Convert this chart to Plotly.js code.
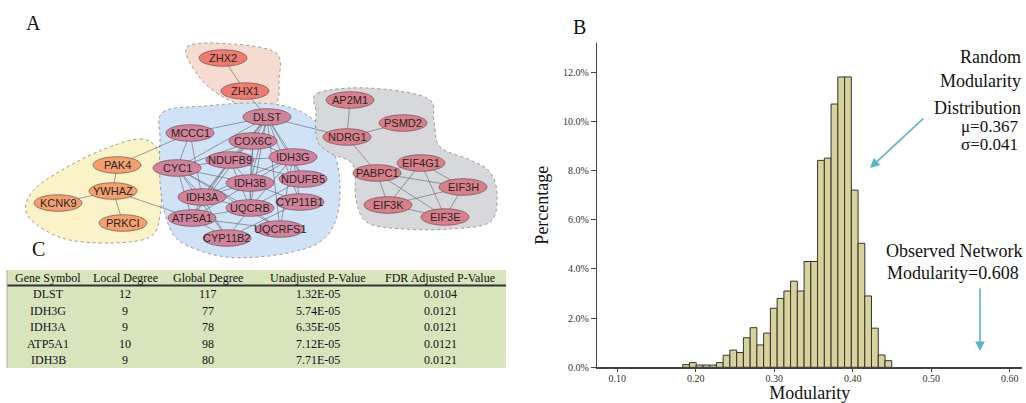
<!DOCTYPE html>
<html>
<head>
<meta charset="utf-8">
<script src="https://cdn.plot.ly/plotly-3.0.1.min.js"></script>
<style>
  html, body { margin: 0; padding: 0; background: #fff; }
  #chart { width: 1026px; height: 403px; }
</style>
</head>
<body>
<div id="chart"></div>
<script>
// ---------- Panel B: histogram data ----------
const binCenters = [0.1876, 0.1962, 0.2048, 0.2134, 0.2220, 0.2306, 0.2391, 0.2477, 0.2563, 0.2649,
                    0.2735, 0.2821, 0.2907, 0.2993, 0.3079, 0.3165, 0.3250, 0.3336, 0.3422, 0.3508,
                    0.3594, 0.3680, 0.3766, 0.3852, 0.3938, 0.4024, 0.4110, 0.4195, 0.4281, 0.4367, 0.4453];
const binPercent = [0.11, 0.19, 0.09, 0.09, 0.09, 0.19, 0.49, 0.70, 0.60, 1.20,
                    1.61, 0.91, 1.39, 2.40, 2.80, 3.10, 3.50, 3.10, 4.30, 4.30,
                    8.41, 8.50, 10.70, 11.80, 11.80, 7.20, 5.04, 2.90, 1.59, 0.50, 0.27];
const xTickVals = [0.10, 0.20, 0.30, 0.40, 0.50, 0.60];
const xTickText = ['0.10', '0.20', '0.30', '0.40', '0.50', '0.60'];
const yTickVals = [0, 2, 4, 6, 8, 10, 12];
const yTickText = ['0.0%', '2.0%', '4.0%', '6.0%', '8.0%', '10.0%', '12.0%'];

// ---------- Panel A: network data ----------
const nodeNames = ['ZHX2', 'ZHX1',
  'PAK4', 'YWHAZ', 'KCNK9', 'PRKCI',
  'DLST', 'MCCC1', 'COX6C', 'NDUFB9', 'IDH3G', 'CYC1', 'IDH3B', 'NDUFB5', 'IDH3A', 'CYP11B1', 'UQCRB', 'ATP5A1', 'UQCRFS1', 'CYP11B2',
  'AP2M1', 'PSMD2', 'NDRG1', 'EIF4G1', 'PABPC1', 'EIF3H', 'EIF3K', 'EIF3E'];
const nodeX = [223, 245,
  117, 113, 58, 123,
  267, 190, 253, 230, 293, 177, 250, 303, 202, 300, 250, 192, 280, 227,
  350, 403, 347, 421, 377, 463, 388, 445];
const nodeY = [58, 91,
  165, 191, 203, 223,
  117, 133, 141, 160, 157, 168, 183, 179, 197, 202, 208, 218, 229, 238,
  100, 123, 137, 163, 173, 187, 205, 217];
const nodeGroup = ['zhx', 'zhx',
  'ywhaz', 'ywhaz', 'ywhaz', 'ywhaz',
  'mito', 'mito', 'mito', 'mito', 'mito', 'mito', 'mito', 'mito', 'mito', 'mito', 'mito', 'mito', 'mito', 'mito',
  'eif', 'eif', 'eif', 'eif', 'eif', 'eif', 'eif', 'eif'];
const edgeFrom = ['ZHX2', 'ZHX1', 'PAK4', 'YWHAZ', 'YWHAZ', 'PAK4', 'YWHAZ', 'DLST',
  'DLST', 'DLST', 'DLST', 'DLST', 'DLST', 'DLST', 'DLST', 'DLST', 'DLST', 'DLST', 'DLST', 'DLST',
  'IDH3G', 'IDH3G', 'IDH3G', 'IDH3G', 'IDH3G', 'IDH3G', 'IDH3G', 'IDH3G',
  'IDH3A', 'IDH3A', 'IDH3A', 'IDH3A', 'IDH3A', 'IDH3A', 'IDH3A',
  'ATP5A1', 'ATP5A1', 'ATP5A1', 'ATP5A1', 'ATP5A1', 'ATP5A1',
  'IDH3B', 'IDH3B', 'IDH3B', 'IDH3B', 'IDH3B',
  'COX6C', 'COX6C', 'NDUFB9', 'CYC1', 'CYC1', 'UQCRB', 'UQCRB', 'NDUFB5', 'CYP11B1', 'MCCC1', 'COX6C', 'NDUFB5', 'UQCRFS1', 'CYP11B2',
  'AP2M1', 'NDRG1', 'NDRG1', 'PABPC1', 'PABPC1', 'PABPC1', 'PABPC1', 'EIF4G1', 'EIF4G1', 'EIF4G1', 'EIF3K', 'EIF3K', 'EIF3H'];
const edgeTo = ['ZHX1', 'DLST', 'YWHAZ', 'KCNK9', 'PRKCI', 'MCCC1', 'ATP5A1', 'NDRG1',
  'MCCC1', 'COX6C', 'NDUFB9', 'IDH3G', 'IDH3B', 'IDH3A', 'UQCRB', 'NDUFB5', 'CYP11B1', 'ATP5A1', 'CYC1', 'UQCRFS1',
  'COX6C', 'NDUFB9', 'IDH3B', 'NDUFB5', 'IDH3A', 'UQCRB', 'CYP11B1', 'UQCRFS1',
  'IDH3B', 'CYC1', 'ATP5A1', 'UQCRB', 'NDUFB9', 'CYP11B2', 'MCCC1',
  'CYC1', 'UQCRB', 'CYP11B2', 'UQCRFS1', 'IDH3B', 'NDUFB9',
  'NDUFB9', 'UQCRB', 'COX6C', 'CYP11B1', 'CYC1',
  'NDUFB9', 'UQCRB', 'UQCRB', 'UQCRB', 'NDUFB9', 'UQCRFS1', 'CYP11B2', 'UQCRB', 'CYP11B2', 'CYC1', 'CYC1', 'NDUFB9', 'CYC1', 'CYC1',
  'NDRG1', 'PSMD2', 'PABPC1', 'EIF4G1', 'EIF3H', 'EIF3K', 'EIF3E', 'EIF3K', 'EIF3E', 'EIF3H', 'EIF3H', 'EIF3E', 'EIF3E'];

// ---------- Panel C: table data ----------
const tableHeaders = ['Gene Symbol', 'Local Degree', 'Global Degree', 'Unadjusted P-Value', 'FDR Adjusted P-Value'];
const geneSymbol = ['DLST', 'IDH3G', 'IDH3A', 'ATP5A1', 'IDH3B'];
const localDegree = ['12', '9', '9', '10', '9'];
const globalDegree = ['117', '77', '78', '98', '80'];
const unadjustedP = ['1.32E-05', '5.74E-05', '6.35E-05', '7.12E-05', '7.71E-05'];
const fdrAdjustedP = ['0.0104', '0.0121', '0.0121', '0.0121', '0.0121'];

// ---------- styling ----------
const W = 1026, H = 403;
const SERIF = 'Liberation Serif, Times New Roman, serif';
const SANS = 'Liberation Sans, Arial, sans-serif';
const px = v => v / W;
const py = v => 1 - v / H;

const groupFill = { zhx: '#ee7b72', ywhaz: '#f4a06e', mito: '#d2829a', eif: '#d97f8a' };
const hulls = [
  { pts: [[187,47],[232,44],[276,53],[279,80],[276,103],[253,107],[225,98],[200,78]], fill: 'rgba(244,214,200,0.85)' },
  { pts: [[140,139],[158,150],[162,178],[160,215],[150,237],[110,243],[62,238],[28,216],[32,192],[62,170],[102,150]], fill: 'rgba(249,242,196,0.95)' },
  { pts: [[163,112],[205,106],[255,103],[292,108],[318,124],[334,152],[340,186],[336,220],[320,242],[292,252],[258,257],[226,257],[198,250],[176,238],[165,214],[160,182],[160,140]], fill: 'rgba(206,226,245,0.95)' },
  { pts: [[318,93],[368,88],[427,98],[434,122],[440,147],[470,160],[490,172],[497,195],[490,222],[450,229],[405,229],[368,223],[356,200],[353,165],[330,153],[317,140],[316,112]], fill: 'rgba(212,214,218,0.95)' }
];
// table geometry (pixels)
const tableLeft = 7, tableRight = 506, tableTop = 270, tableBottom = 368, headerRule = 285.5;
const colCenters = [48, 125, 208, 318, 440];
const headerY = 277.5;
const rowYs = [294, 310.5, 327, 343.5, 360];

function smoothPath(p) {
  const n = p.length; let d = 'M' + p[0][0] + ',' + p[0][1];
  for (let i = 0; i < n; i++) {
    const p0 = p[(i - 1 + n) % n], p1 = p[i], p2 = p[(i + 1) % n], p3 = p[(i + 2) % n];
    const c1 = [p1[0] + (p2[0] - p0[0]) / 6, p1[1] + (p2[1] - p0[1]) / 6];
    const c2 = [p2[0] - (p3[0] - p1[0]) / 6, p2[1] - (p3[1] - p1[1]) / 6];
    d += ' C' + c1[0].toFixed(1) + ',' + c1[1].toFixed(1) + ' ' + c2[0].toFixed(1) + ',' + c2[1].toFixed(1) + ' ' + p2[0] + ',' + p2[1];
  }
  return d + ' Z';
}

const shapes = [];
hulls.forEach(h => shapes.push({
  type: 'path', xref: 'x2', yref: 'y2', path: smoothPath(h.pts), fillcolor: h.fill,
  line: { color: '#9a9a9a', width: 1, dash: 'dot' }, layer: 'below'
}));
const RX = 24, RY = 8.3;
nodeNames.forEach((n, i) => shapes.push({
  type: 'circle', xref: 'x2', yref: 'y2',
  x0: nodeX[i] - RX, x1: nodeX[i] + RX, y0: nodeY[i] - RY, y1: nodeY[i] + RY,
  fillcolor: groupFill[nodeGroup[i]], line: { color: 'rgba(90,60,65,0.75)', width: 0.8 }, layer: 'above'
}));
// table background and rules
const green = '#d8e4bc';
shapes.push({ type: 'rect', xref: 'paper', yref: 'paper', x0: px(tableLeft), x1: px(tableRight), y0: py(tableBottom), y1: py(tableTop),
  fillcolor: green, line: { width: 0 }, layer: 'below' });
shapes.push({ type: 'line', xref: 'paper', yref: 'paper', x0: px(tableLeft), x1: px(tableRight), y0: py(headerRule), y1: py(headerRule), line: { color: '#333', width: 2 }, layer: 'above' });
shapes.push({ type: 'line', xref: 'paper', yref: 'paper', x0: px(tableLeft), x1: px(tableLeft), y0: py(tableTop), y1: py(tableBottom), line: { color: '#aaa', width: 1 }, layer: 'above' });

// edges
const idx = {}; nodeNames.forEach((n, i) => idx[n] = i);
const ex = [], ey = [];
edgeFrom.forEach((f, k) => {
  const a = idx[f], b = idx[edgeTo[k]];
  ex.push(nodeX[a], nodeX[b], null); ey.push(nodeY[a], nodeY[b], null);
});

const annotations = [];
nodeNames.forEach((n, i) => annotations.push({
  xref: 'x2', yref: 'y2', x: nodeX[i], y: nodeY[i], xanchor: 'center', yanchor: 'middle', text: n, showarrow: false,
  font: { family: SANS, size: 11, color: '#262626' }
}));
const txt = (t, x, y, xanchor, size) => ({ xref: 'paper', yref: 'paper', x: px(x), y: py(y), xanchor: xanchor, yanchor: 'middle',
  text: t, showarrow: false, font: { family: SERIF, size: size, color: '#111' } });
annotations.push(txt('A', 33, 23, 'center', 20), txt('B', 579, 27, 'center', 20), txt('C', 38, 249, 'center', 20));
annotations.push(txt('Random', 1023, 57, 'right', 18), txt('Modularity', 1023, 81, 'right', 18), txt('Distribution', 1023, 108, 'right', 18),
  txt('μ=0.367', 1020, 127, 'right', 17), txt('σ=0.041', 1020, 144, 'right', 17),
  txt('Observed Network', 1024, 251, 'right', 18), txt('Modularity=0.608', 1021, 273, 'right', 18));
// table text
const tableCols = [geneSymbol, localDegree, globalDegree, unadjustedP, fdrAdjustedP];
tableHeaders.forEach((h, c) => annotations.push(txt(h, colCenters[c], headerY, 'center', 12)));
tableCols.forEach((col, c) => col.forEach((v, r) => annotations.push(txt(v, colCenters[c], rowYs[r], 'center', 12))));

const arrowColor = '#5ab3cb';
annotations.push({ xref: 'paper', yref: 'paper', x: px(870), y: py(168), ax: 55, ay: -51, text: '', showarrow: true,
  arrowhead: 2, arrowsize: 1.2, arrowwidth: 1.6, arrowcolor: arrowColor });
annotations.push({ xref: 'paper', yref: 'paper', x: px(980), y: py(351), ax: 0, ay: -64, text: '', showarrow: true,
  arrowhead: 2, arrowsize: 1.2, arrowwidth: 1.6, arrowcolor: arrowColor });

const traces = [
  { type: 'bar', x: binCenters, y: binPercent, width: 0.00859, xaxis: 'x', yaxis: 'y',
    marker: { color: '#d8d29b', line: { color: '#333', width: 1 } }, hoverinfo: 'skip' },
  { type: 'scatter', mode: 'lines', x: ex, y: ey, xaxis: 'x2', yaxis: 'y2',
    line: { color: 'rgba(100,105,112,0.8)', width: 0.8 }, hoverinfo: 'skip' }
];

const layout = {
  width: W, height: H, margin: { l: 0, r: 0, t: 0, b: 0 }, showlegend: false,
  paper_bgcolor: '#fff', plot_bgcolor: 'rgba(0,0,0,0)', bargap: 0,
  xaxis: { domain: [px(597.3), px(1022)], range: [0.0745, 0.6155], anchor: 'y',
    showline: true, linecolor: '#444', linewidth: 1.5, showgrid: false, zeroline: false,
    ticks: 'outside', ticklen: 3, tickcolor: '#444', tickvals: xTickVals, ticktext: xTickText,
    ticklabelstandoff: -2,
    tickfont: { family: SERIF, size: 10, color: '#333' }, automargin: false,
    title: { text: 'Modularity', font: { family: SERIF, size: 18, color: '#111' }, standoff: 8 } },
  yaxis: { domain: [py(367.3), py(43)], range: [0, 13.18], anchor: 'x',
    showline: true, linecolor: '#444', linewidth: 1.5, showgrid: false, zeroline: false,
    ticks: 'outside', ticklen: 5, tickcolor: '#444', tickvals: yTickVals, ticktext: yTickText,
    tickfont: { family: SERIF, size: 10, color: '#333' }, automargin: false,
    title: { text: 'Percentage', font: { family: SERIF, size: 18, color: '#111' }, standoff: 9 } },
  xaxis2: { domain: [0, px(540)], range: [0, 540], anchor: 'y2', visible: false, fixedrange: true },
  yaxis2: { domain: [py(270), 1], range: [270, 0], anchor: 'x2', visible: false, fixedrange: true },
  shapes: shapes, annotations: annotations
};

Plotly.newPlot('chart', traces, layout, { staticPlot: true, displayModeBar: false });
</script>
</body>
</html>
